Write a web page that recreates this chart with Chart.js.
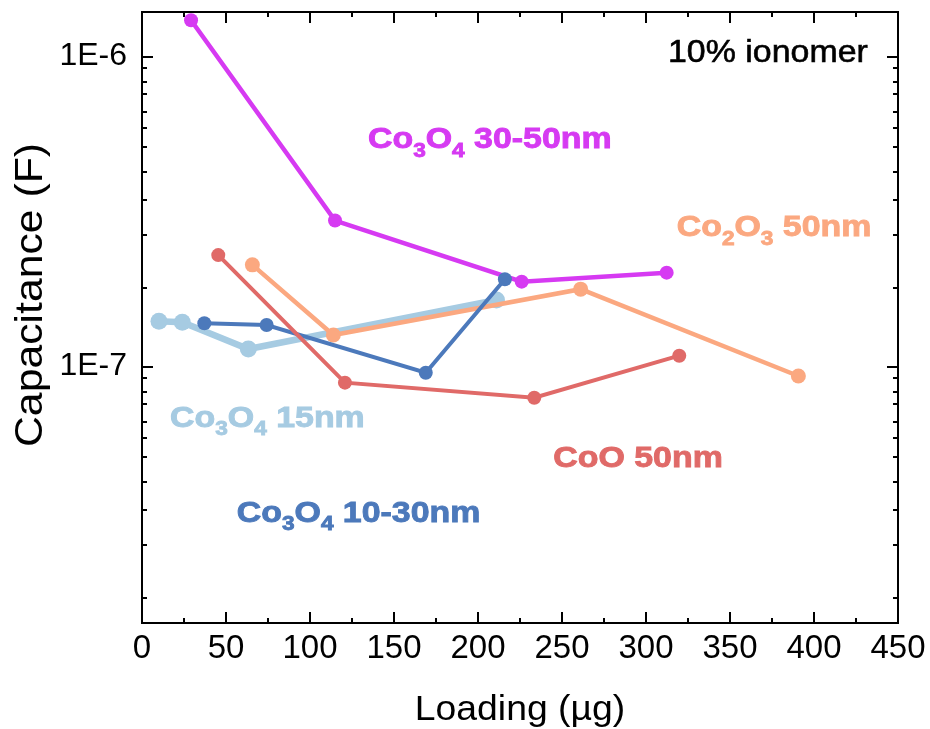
<!DOCTYPE html>
<html><head><meta charset="utf-8">
<script src="https://cdn.jsdelivr.net/npm/chart.js@4.4.0/dist/chart.umd.min.js"></script>
<style>html,body{margin:0;padding:0;background:#fff}</style>
</head><body>
<canvas id="c" width="930" height="729"></canvas>
<script>
// ---- data ----
const co3o4_3050_x = [29.2, 114.9, 226.0, 312.3];
const co3o4_3050_y = [1.31e-6, 2.96e-7, 1.88e-7, 2.01e-7];
const coo_x = [45.4, 120.8, 233.5, 319.8];
const coo_y = [2.29e-7, 8.88e-8, 7.94e-8, 1.085e-7];
const co2o3_x = [65.7, 113.9, 261.1, 390.7];
const co2o3_y = [2.13e-7, 1.265e-7, 1.778e-7, 9.33e-8];
const co3o4_15_x = [10.1, 24.0, 63.3, 211.0];
const co3o4_15_y = [1.40e-7, 1.39e-7, 1.14e-7, 1.64e-7];
const co3o4_1030_x = [37.1, 74.2, 168.9, 216.0];
const co3o4_1030_y = [1.38e-7, 1.363e-7, 9.56e-8, 1.914e-7];

const seriesNames = ['Co3O4 30-50nm', 'CoO 50nm', 'Co2O3 50nm', 'Co3O4 15nm', 'Co3O4 10-30nm'];
const xTickValues = [0, 50, 100, 150, 200, 250, 300, 350, 400, 450];
const xMinorTicks = [25, 75, 125, 175, 225, 275, 325, 375, 425];
const yTickValues = [1e-7, 1e-6];
const yTickLabels = ['1E-7', '1E-6'];
const yMinorFactors = [0.917, 0.831, 0.756, 0.665, 0.590, 0.513, 0.424, 0.344, 0.265, 0.179];
const xTitle = 'Loading (µg)';
const yTitle = 'Capacitance (F)';
// annotation texts ("_" marks a subscript character)
const labelTexts = ['Co_3O_4 30-50nm', 'Co_2O_3 50nm', 'Co_3O_4 15nm', 'Co_3O_4 10-30nm', 'CoO 50nm'];
const labelAnchorX = [134.5, 318.3, 16.7, 56.4, 244.8];
const labelAnchorY = [5.06e-7, 2.63e-7, 6.40e-8, 3.16e-8, 4.76e-8];
const noteText = '10% ionomer';
const noteX = 313.1, noteY = 9.63e-7;

const colors = {
  magenta: '#d63af2',
  red: '#e06a68',
  orange: '#fba880',
  lightblue: '#a6cbe2',
  blue: '#4c79bb'
};
const labelColors = [colors.magenta, colors.orange, colors.lightblue, colors.blue, colors.red];

function pts(xs, ys) { return xs.map((x, i) => ({x: x, y: ys[i]})); }

const datasets = [
  {label: seriesNames[0], data: pts(co3o4_3050_x, co3o4_3050_y), borderColor: colors.magenta, backgroundColor: colors.magenta, borderWidth: 4.5, pointRadius: 7, order: 3},
  {label: seriesNames[1], data: pts(coo_x, coo_y), borderColor: colors.red, backgroundColor: colors.red, borderWidth: 4, pointRadius: 7, order: 1},
  {label: seriesNames[2], data: pts(co2o3_x, co2o3_y), borderColor: colors.orange, backgroundColor: colors.orange, borderWidth: 4.5, pointRadius: 7.5, order: 4},
  {label: seriesNames[3], data: pts(co3o4_15_x, co3o4_15_y), borderColor: colors.lightblue, backgroundColor: colors.lightblue, borderWidth: 6.5, pointRadius: 8.5, order: 5},
  {label: seriesNames[4], data: pts(co3o4_1030_x, co3o4_1030_y), borderColor: colors.blue, backgroundColor: colors.blue, borderWidth: 4, pointRadius: 7, order: 2}
];
datasets.forEach(d => { d.pointBorderWidth = 0; d.pointHoverRadius = d.pointRadius; d.tension = 0; d.fill = false; });

const FONT = '"Liberation Sans", Arial, Helvetica, sans-serif';

function drawRich(ctx, text, x, y, size, subSize, subDrop, sx) {
  ctx.save();
  ctx.translate(x, y);
  ctx.scale(sx, 1);
  ctx.lineWidth = 0.9;
  ctx.strokeStyle = ctx.fillStyle;
  let cx = 0;
  for (let i = 0; i < text.length; i++) {
    let ch = text[i];
    let sub = false;
    if (ch === '_') { sub = true; i++; ch = text[i]; }
    ctx.font = 'bold ' + (sub ? subSize : size) + 'px ' + FONT;
    ctx.fillText(ch, cx, sub ? subDrop : 0);
    ctx.strokeText(ch, cx, sub ? subDrop : 0);
    cx += ctx.measureText(ch).width;
  }
  ctx.restore();
}

const decorPlugin = {
  id: 'decor',
  afterDatasetsDraw(chart) {
    const ctx = chart.ctx;
    const a = chart.chartArea;
    const xs = chart.scales.x, ys = chart.scales.y;
    ctx.save();
    ctx.strokeStyle = '#000';
    ctx.lineWidth = 2;
    ctx.strokeRect(a.left, a.top, a.right - a.left, a.bottom - a.top);
    ctx.lineWidth = 2;
    ctx.beginPath();
    const majL = 11, minL = 5;
    xTickValues.forEach(v => {
      const px = Math.round(xs.getPixelForValue(v));
      if (px <= a.left + 1 || px >= a.right - 1) return;
      ctx.moveTo(px, a.bottom); ctx.lineTo(px, a.bottom - majL);
      ctx.moveTo(px, a.top); ctx.lineTo(px, a.top + majL);
    });
    xMinorTicks.forEach(v => {
      const px = Math.round(xs.getPixelForValue(v));
      ctx.moveTo(px, a.bottom); ctx.lineTo(px, a.bottom - minL);
      ctx.moveTo(px, a.top); ctx.lineTo(px, a.top + minL);
    });
    yTickValues.forEach(v => {
      const py = Math.round(ys.getPixelForValue(v));
      ctx.moveTo(a.left, py); ctx.lineTo(a.left + majL, py);
      ctx.moveTo(a.right, py); ctx.lineTo(a.right - majL, py);
    });
    yTickValues.forEach(dec => {
      yMinorFactors.forEach(f => {
        const v = dec * f;
        if (v < ys.min || v > ys.max) return;
        const py = Math.round(ys.getPixelForValue(v));
        ctx.moveTo(a.left, py); ctx.lineTo(a.left + minL, py);
        ctx.moveTo(a.right, py); ctx.lineTo(a.right - minL, py);
      });
    });
    ctx.stroke();

    // annotations
    ctx.textBaseline = 'alphabetic';
    ctx.textAlign = 'left';
    labelTexts.forEach((t, i) => {
      ctx.fillStyle = labelColors[i];
      drawRich(ctx, t, xs.getPixelForValue(labelAnchorX[i]), ys.getPixelForValue(labelAnchorY[i]), 30, 20, 8.5, 1.13);
    });
    ctx.fillStyle = '#000';
    ctx.save();
    ctx.translate(xs.getPixelForValue(noteX), ys.getPixelForValue(noteY));
    ctx.scale(1.06, 1);
    ctx.font = '32px ' + FONT;
    ctx.lineWidth = 0.6;
    ctx.strokeStyle = '#000';
    ctx.fillText(noteText, 0, 0);
    ctx.strokeText(noteText, 0, 0);
    ctx.restore();

    // axis titles
    ctx.textAlign = 'center';
    ctx.save();
    ctx.translate((a.left + a.right) / 2, 720);
    ctx.scale(1.066, 1);
    ctx.font = '35px ' + FONT;
    ctx.fillText(xTitle, 0, 0);
    ctx.restore();
    ctx.save();
    ctx.translate(42, 295);
    ctx.rotate(-Math.PI / 2);
    ctx.font = '39px ' + FONT;
    const w = ctx.measureText(yTitle).width;
    ctx.scale(304 / w, 1);
    ctx.fillText(yTitle, 0, 0);
    ctx.restore();
    ctx.restore();
  }
};

new Chart(document.getElementById('c').getContext('2d'), {
  type: 'line',
  data: {datasets: datasets},
  plugins: [decorPlugin],
  options: {
    responsive: false,
    animation: false,
    devicePixelRatio: 1,
    layout: {padding: {top: 12, right: 32, left: 0, bottom: 0}},
    plugins: {legend: {display: false}, tooltip: {enabled: false}},
    scales: {
      x: {
        type: 'linear', min: 0, max: 450,
        afterBuildTicks: s => { s.ticks = xTickValues.map(v => ({value: v})); },
        ticks: {color: '#000', font: {size: 33, family: FONT}, padding: 6, maxRotation: 0, autoSkip: false,
          callback: v => String(v)},
        grid: {display: false, drawTicks: false},
        border: {display: false},
        afterFit: s => { s.height = 106; s.paddingLeft = 0; s.paddingRight = 0; }
      },
      y: {
        type: 'logarithmic', min: 1.49e-8, max: 1.393e-6,
        afterBuildTicks: s => { s.ticks = yTickValues.map(v => ({value: v})); },
        ticks: {color: '#000', font: {size: 32, family: FONT}, padding: 15, autoSkip: false,
          callback: v => { const i = yTickValues.findIndex(t => Math.abs(t - v) / t < 1e-6); return i >= 0 ? yTickLabels[i] : ''; }},
        grid: {display: false, drawTicks: false},
        border: {display: false},
        afterFit: s => { s.width = 142; s.paddingTop = 0; s.paddingBottom = 0; }
      }
    }
  }
});
</script>
</body></html>
